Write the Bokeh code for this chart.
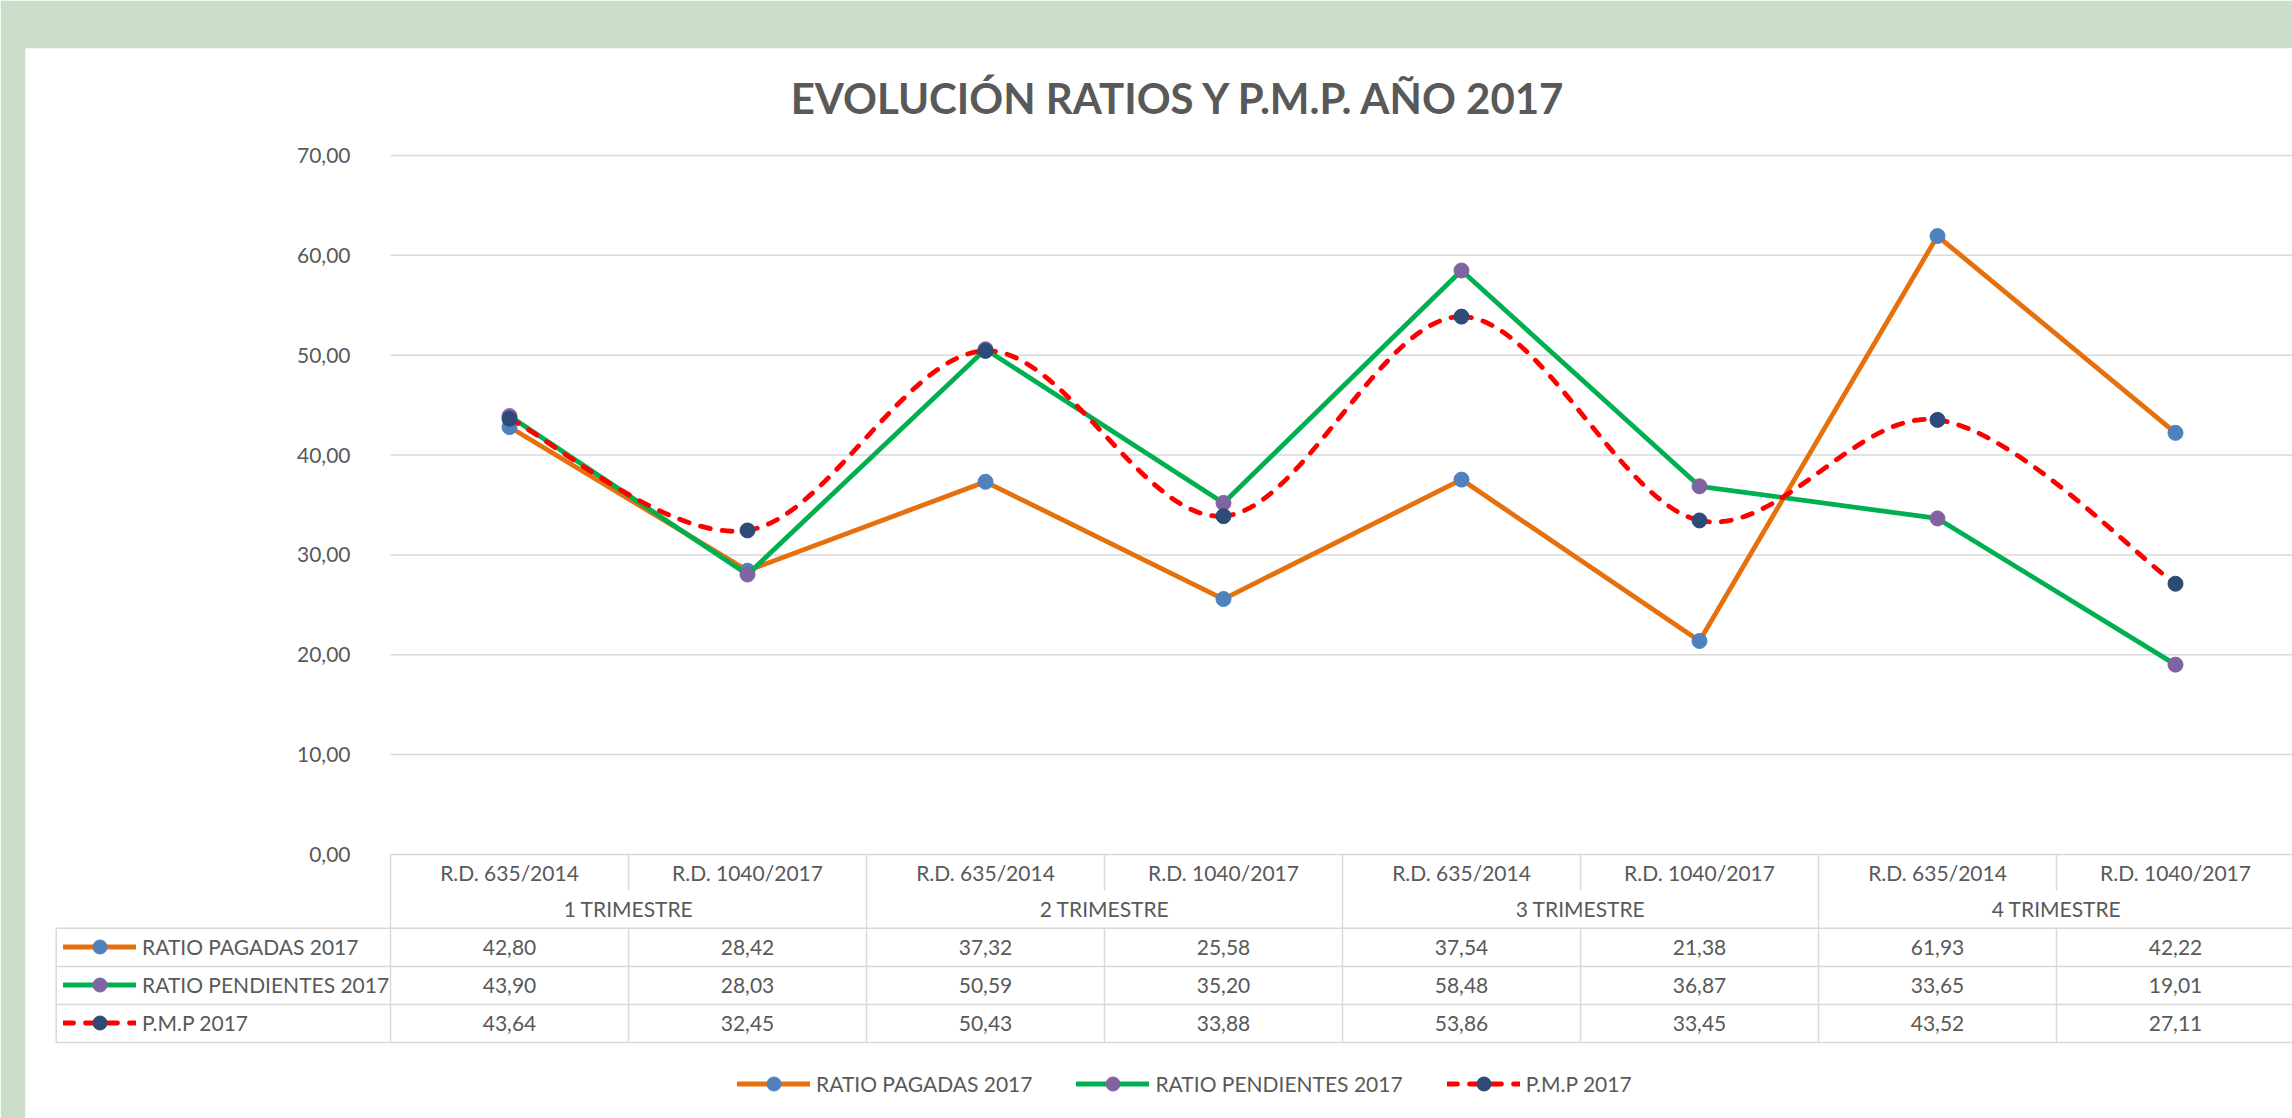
import numpy as np
from bokeh.plotting import figure
from bokeh.models import (Range1d, LinearAxis, FixedTicker, CustomJSTickFormatter,
                          Legend, LegendItem, ColumnDataSource, Label)
from bokeh.core.properties import value
from bokeh.embed import file_html
from bokeh.resources import INLINE

# ---------------- data ----------------
title_text = "EVOLUCIÓN RATIOS Y P.M.P. AÑO 2017"
categories = ["R.D. 635/2014", "R.D. 1040/2017", "R.D. 635/2014", "R.D. 1040/2017",
              "R.D. 635/2014", "R.D. 1040/2017", "R.D. 635/2014", "R.D. 1040/2017"]
groups = ["1 TRIMESTRE", "2 TRIMESTRE", "3 TRIMESTRE", "4 TRIMESTRE"]
ratio_pagadas = [42.80, 28.42, 37.32, 25.58, 37.54, 21.38, 61.93, 42.22]
ratio_pendientes = [43.90, 28.03, 50.59, 35.20, 58.48, 36.87, 33.65, 19.01]
pmp = [43.64, 32.45, 50.43, 33.88, 53.86, 33.45, 43.52, 27.11]
series_names = ["RATIO PAGADAS 2017", "RATIO PENDIENTES 2017", "P.M.P 2017"]
y_ticks = [0, 10, 20, 30, 40, 50, 60, 70]

# ---------------- style ----------------
FONT = "Lato"
TXT = "#595959"
GRID = "#d9d9d9"
GREEN_BG = "#CADDC8"
C_ORANGE = "#E5700C"
C_GREEN = "#00B050"
C_RED = "#FF0000"
M_BLUE = "#4F81BD"
M_PURPLE = "#8064A2"
M_NAVY = "#2E4A76"
LW = 4.8
MS = 15

n = len(categories)
xs = np.arange(n) + 0.5

p = figure(width=2292, height=1118, output_backend="svg", toolbar_location=None,
           x_range=Range1d(-1.5336, 7.9916), y_range=Range1d(-26.44, 80.71),
           x_axis_location=None, y_axis_location=None,
           min_border_left=25, min_border_top=48, min_border_right=0, min_border_bottom=0)
p.border_fill_color = GREEN_BG
p.background_fill_color = "white"
p.outline_line_color = None
p.xgrid.visible = False
p.ygrid.visible = False

# gridlines (plot area only)
p.segment(x0=[0] * len(y_ticks), x1=[n] * len(y_ticks), y0=y_ticks, y1=y_ticks,
          line_color=GRID, line_width=1.5)

# y axis placed at x = 0
yaxis = LinearAxis(fixed_location=0, ticker=FixedTicker(ticks=y_ticks),
                   formatter=CustomJSTickFormatter(code="return tick.toFixed(2).replace('.', ',');"))
yaxis.axis_line_color = None
yaxis.major_tick_line_color = None
yaxis.minor_tick_line_color = None
yaxis.major_tick_in = 0
yaxis.major_tick_out = 0
yaxis.major_label_standoff = 40
yaxis.major_label_text_font = FONT
yaxis.major_label_text_font_size = "21px"
yaxis.major_label_text_color = TXT
p.add_layout(yaxis, "left")

# ---------------- data table below the plot ----------------
y_cat, y_grp = -1.77, -5.41
y_rows = [-9.28, -13.12, -16.89]
y_l1, y_l2 = -3.605, -7.38
y_hlines = [-7.38, -11.22, -15.02, -18.83]
x_label_left = -1.4046

# vertical lines at group boundaries (full height)
gb = list(range(0, n + 1, 2))
p.segment(x0=gb, x1=gb, y0=[0] * len(gb), y1=[y_hlines[-1]] * len(gb), line_color=GRID, line_width=1.5)
# inner boundaries (not across group label row)
ib = list(range(1, n, 2))
p.segment(x0=ib, x1=ib, y0=[0] * len(ib), y1=[y_l1] * len(ib), line_color=GRID, line_width=1.5)
p.segment(x0=ib, x1=ib, y0=[y_l2] * len(ib), y1=[y_hlines[-1]] * len(ib), line_color=GRID, line_width=1.5)
# row label column left edge
p.segment(x0=[x_label_left], x1=[x_label_left], y0=[y_l2], y1=[y_hlines[-1]], line_color=GRID, line_width=1.5)
# horizontal row lines
p.segment(x0=[x_label_left] * len(y_hlines), x1=[n] * len(y_hlines), y0=y_hlines, y1=y_hlines,
          line_color=GRID, line_width=1.5)

def fmt(v):
    return f"{v:.2f}".replace(".", ",")

tx, ty, tt = [], [], []
for i, c in enumerate(categories):
    tx.append(xs[i]); ty.append(y_cat); tt.append(c)
for g, name in enumerate(groups):
    tx.append(2 * g + 1); ty.append(y_grp); tt.append(name)
for r, vals in enumerate([ratio_pagadas, ratio_pendientes, pmp]):
    for i, v in enumerate(vals):
        tx.append(xs[i]); ty.append(y_rows[r]); tt.append(fmt(v))
p.text(x=tx, y=ty, text=tt, text_align="center", text_baseline="middle",
       text_font=value(FONT), text_font_size="21px", text_color=TXT)

# ---------------- series ----------------
l1 = p.line(xs, ratio_pagadas, line_color=C_ORANGE, line_width=LW, line_join="round", line_cap="round")
s1 = p.scatter(xs, ratio_pagadas, size=MS, marker="circle", fill_color=M_BLUE, line_color=M_BLUE)
l2 = p.line(xs, ratio_pendientes, line_color=C_GREEN, line_width=LW, line_join="round", line_cap="round")
s2 = p.scatter(xs, ratio_pendientes, size=MS, marker="circle", fill_color=M_PURPLE, line_color=M_PURPLE)

# smoothed P.M.P line (Bezier segments through the data points)
P = np.asarray(pmp, dtype=float)

def tangents(a):
    a = np.asarray(a, dtype=float)
    ext = np.concatenate([[a[0]], a, [a[-1]]])
    return (ext[2:] - ext[:-2]) / 6.0

txg, tyg = tangents(xs), tangents(P)
bez = ColumnDataSource(dict(x0=xs[:-1], y0=P[:-1], x1=xs[1:], y1=P[1:],
                            cx0=xs[:-1] + txg[:-1], cy0=P[:-1] + tyg[:-1],
                            cx1=xs[1:] - txg[1:], cy1=P[1:] - tyg[1:]))
DASH = "10 12"
l3 = p.bezier(x0="x0", y0="y0", x1="x1", y1="y1", cx0="cx0", cy0="cy0", cx1="cx1", cy1="cy1",
              source=bez, line_color=C_RED, line_width=LW, line_dash=DASH, line_cap="round")
s3 = p.scatter(xs, pmp, size=MS, marker="circle", fill_color=M_NAVY, line_color=M_NAVY)

rends = [[l1, s1], [l2, s2], [l3, s3]]

# title
p.add_layout(Label(x=3.315, y=75.71, text=title_text, text_align="center", text_baseline="middle",
                   text_font=FONT, text_font_size="42px", text_font_style="bold", text_color=TXT))

def make_legend(orientation, location, spacing):
    leg = Legend(items=[LegendItem(label=nm, renderers=r) for nm, r in zip(series_names, rends)],
                 orientation=orientation, location=location, glyph_width=73, glyph_height=35,
                 label_standoff=6, spacing=spacing, padding=0, margin=0,
                 border_line_color=None, background_fill_alpha=0,
                 label_text_font=FONT, label_text_font_size="21px", label_text_color=TXT,
                 label_height=20)
    return leg

p.add_layout(make_legend("horizontal", (712, 17), 44))
p.add_layout(make_legend("vertical", (38, 78), 3))

open("out.html", "w").write(file_html(p, INLINE))
